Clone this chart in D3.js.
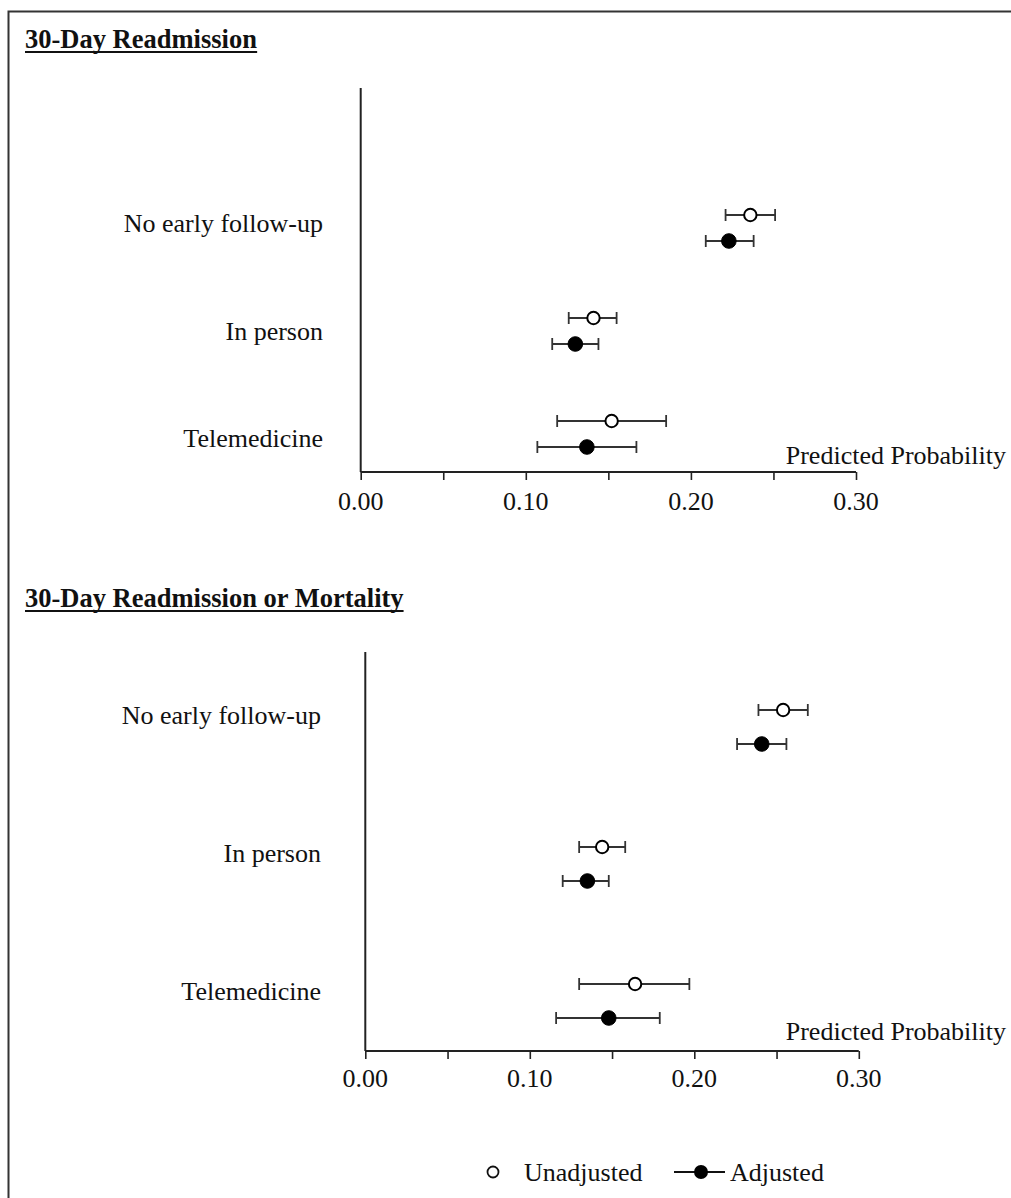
<!DOCTYPE html>
<html><head><meta charset="utf-8">
<script src="https://cdn.jsdelivr.net/npm/d3@7"></script>
<style>
html,body{margin:0;padding:0;background:#fff;}
svg text{font-family:"Liberation Serif","Times New Roman",serif;fill:#111;}
</style></head>
<body>
<svg id="c" width="1011" height="1198"></svg>
<script>
const categories = ["No early follow-up", "In person", "Telemedicine"];

// 30-Day Readmission
const readmitUnadj   = [0.236, 0.141, 0.152];
const readmitUnadjLo = [0.221, 0.126, 0.119];
const readmitUnadjHi = [0.251, 0.155, 0.185];
const readmitAdj     = [0.223, 0.130, 0.137];
const readmitAdjLo   = [0.209, 0.116, 0.107];
const readmitAdjHi   = [0.238, 0.144, 0.167];

// 30-Day Readmission or Mortality
const mortUnadj   = [0.254, 0.144, 0.164];
const mortUnadjLo = [0.239, 0.130, 0.130];
const mortUnadjHi = [0.269, 0.158, 0.197];
const mortAdj     = [0.241, 0.135, 0.148];
const mortAdjLo   = [0.226, 0.120, 0.116];
const mortAdjHi   = [0.256, 0.148, 0.179];

const xMajorTicks = [0, 0.10, 0.20, 0.30];
const xMinorTicks = [0, 0.05, 0.10, 0.15, 0.20, 0.25, 0.30];
const xTickLabels = ["0.00", "0.10", "0.20", "0.30"];
const panelTitles = ["30-Day Readmission", "30-Day Readmission or Mortality"];
const axisTitle = "Predicted Probability";
const legendLabels = ["Unadjusted", "Adjusted"];

const svg = d3.select("#c");
const ink = "#222";
const FS = 26;

// frame
svg.append("rect").attr("x", 8.5).attr("y", 11.5).attr("width", 1010).attr("height", 1200)
  .attr("fill", "none").attr("stroke", "#333").attr("stroke-width", 2);

const panels = [
  {title: panelTitles[0], titleY: 48, x0: 360.7, x1: 856, yTop: 88, yBase: 472,
   ptRange: [228, 434], off: 13, labRange: [232, 447], labX: 323, tickLabY: 510, axTitleY: 464,
   unadj: readmitUnadj, uLo: readmitUnadjLo, uHi: readmitUnadjHi,
   adj: readmitAdj, aLo: readmitAdjLo, aHi: readmitAdjHi},
  {title: panelTitles[1], titleY: 607, x0: 365.3, x1: 858.8, yTop: 652, yBase: 1051,
   ptRange: [727, 1001], off: 17, labRange: [724, 1000], labX: 321, tickLabY: 1087, axTitleY: 1040,
   unadj: mortUnadj, uLo: mortUnadjLo, uHi: mortUnadjHi,
   adj: mortAdj, aLo: mortAdjLo, aHi: mortAdjHi}
];

panels.forEach(p => {
  const g = svg.append("g");
  const x = d3.scaleLinear().domain([0, 0.30]).range([p.x0, p.x1]);
  const y = d3.scalePoint().domain(categories).range(p.ptRange);
  const yl = d3.scalePoint().domain(categories).range(p.labRange);

  // title
  const t = g.append("text").attr("x", 25).attr("y", p.titleY)
    .attr("font-size", 26.5).attr("font-weight", "bold").text(p.title);
  const bb = t.node().getBBox();
  g.append("line").attr("x1", 25).attr("x2", 25 + bb.width)
    .attr("y1", p.titleY + 4).attr("y2", p.titleY + 4)
    .attr("stroke", "#111").attr("stroke-width", 2.2);

  // x axis
  const xa = d3.axisBottom(x).tickValues(xMinorTicks).tickSize(8).tickFormat("");
  const ax = g.append("g").attr("transform", `translate(0,${p.yBase})`).call(xa);
  ax.select(".domain").attr("stroke", ink).attr("stroke-width", 2)
    .attr("d", `M${p.x0},0H${p.x1}`);
  ax.selectAll(".tick line").attr("stroke", ink).attr("stroke-width", 1.6);
  g.selectAll(".xlab").data(xMajorTicks).enter().append("text")
    .attr("x", d => x(d)).attr("y", p.tickLabY).attr("text-anchor", "middle")
    .attr("font-size", FS).text((d, i) => xTickLabels[i]);

  // y axis
  g.append("line").attr("x1", p.x0).attr("x2", p.x0).attr("y1", p.yTop).attr("y2", p.yBase)
    .attr("stroke", ink).attr("stroke-width", 2);

  // axis title
  g.append("text").attr("x", 1006).attr("y", p.axTitleY).attr("text-anchor", "end")
    .attr("font-size", FS).text(axisTitle);

  // category labels
  g.selectAll(".clab").data(categories).enter().append("text")
    .attr("x", p.labX).attr("y", d => yl(d)).attr("text-anchor", "end")
    .attr("font-size", FS).text(d => d);

  const series = [
    {v: p.unadj, lo: p.uLo, hi: p.uHi, dy: -p.off, filled: false},
    {v: p.adj, lo: p.aLo, hi: p.aHi, dy: p.off, filled: true}
  ];
  series.forEach(s => {
    const data = categories.map((c, i) => ({c, v: s.v[i], lo: s.lo[i], hi: s.hi[i]}));
    const sg = g.append("g");
    sg.selectAll(".eb").data(data).enter().append("line")
      .attr("x1", d => x(d.lo)).attr("x2", d => x(d.hi))
      .attr("y1", d => y(d.c) + s.dy).attr("y2", d => y(d.c) + s.dy)
      .attr("stroke", "#333").attr("stroke-width", 1.8);
    ["lo", "hi"].forEach(k => {
      sg.selectAll(".cap" + k).data(data).enter().append("line")
        .attr("x1", d => x(d[k])).attr("x2", d => x(d[k]))
        .attr("y1", d => y(d.c) + s.dy - 6).attr("y2", d => y(d.c) + s.dy + 6)
        .attr("stroke", "#333").attr("stroke-width", 1.8);
    });
    sg.selectAll(".pt").data(data).enter().append("circle")
      .attr("cx", d => x(d.v)).attr("cy", d => y(d.c) + s.dy)
      .attr("r", s.filled ? 7.3 : 6.2)
      .attr("fill", s.filled ? "#000" : "#fff")
      .attr("stroke", "#000").attr("stroke-width", s.filled ? 1 : 2);
  });
});

// legend
const lg = svg.append("g");
lg.append("circle").attr("cx", 493).attr("cy", 1172).attr("r", 5.5)
  .attr("fill", "#fff").attr("stroke", "#111").attr("stroke-width", 1.8);
lg.append("text").attr("x", 524).attr("y", 1181).attr("font-size", FS).text(legendLabels[0]);
lg.append("line").attr("x1", 674).attr("x2", 725).attr("y1", 1172).attr("y2", 1172)
  .attr("stroke", "#111").attr("stroke-width", 1.8);
lg.append("circle").attr("cx", 701).attr("cy", 1172).attr("r", 7)
  .attr("fill", "#000");
lg.append("text").attr("x", 730).attr("y", 1181).attr("font-size", FS).text(legendLabels[1]);
</script>
</body></html>
